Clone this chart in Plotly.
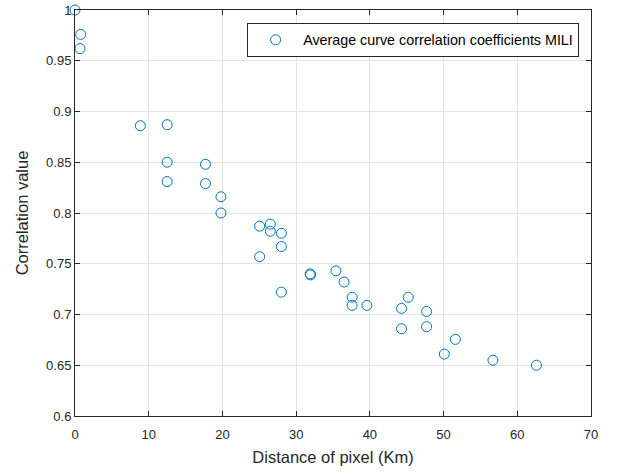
import plotly.graph_objects as go

distance_km = [0.0, 0.77, 0.68, 8.86, 12.5, 12.5, 12.5, 17.7, 17.7, 19.8, 19.8,
               25.05, 26.5, 26.5, 28.0, 28.0, 25.05, 28.0, 31.9, 31.95, 35.4, 36.5,
               37.6, 37.6, 39.6, 44.3, 45.2, 44.3, 47.7, 47.7, 51.6, 50.1, 56.7, 62.6]
correlation = [1.0, 0.976, 0.962, 0.886, 0.887, 0.850, 0.831, 0.848, 0.829, 0.816, 0.800,
               0.787, 0.789, 0.782, 0.780, 0.767, 0.757, 0.722, 0.740, 0.739, 0.743, 0.732,
               0.717, 0.709, 0.709, 0.706, 0.717, 0.686, 0.703, 0.688, 0.6755, 0.661, 0.655, 0.650]

x_ticks = [0, 10, 20, 30, 40, 50, 60, 70]
y_ticks = [0.6, 0.65, 0.7, 0.75, 0.8, 0.85, 0.9, 0.95, 1.0]
y_tick_labels = ["0.6", "0.65", "0.7", "0.75", "0.8", "0.85", "0.9", "0.95", "1"]

series_name = "Average curve correlation coefficients MILI"
FONT = "Liberation Sans, Arial, sans-serif"

fig = go.Figure()
fig.add_trace(go.Scatter(
    x=distance_km, y=correlation, mode="markers", name=series_name,
    cliponaxis=False,
    marker=dict(symbol="circle-open", size=10, color="#0072BD",
                line=dict(width=1, color="#0072BD")),
))

axis_common = dict(
    showline=True, linecolor="#262626", linewidth=1, mirror="ticks",
    ticks="inside", ticklen=5, tickcolor="#262626", tickwidth=1,
    showgrid=True, gridcolor="#e3e3e3", gridwidth=1, zeroline=False,
    ticklabeloverflow="allow",
    tickfont=dict(family=FONT, size=13, color="#262626"),
)

fig.update_xaxes(range=[0, 70], tickvals=x_ticks, ticklabelstandoff=6,
                 title=dict(text="Distance of pixel (Km)", standoff=10,
                            font=dict(family=FONT, size=16.5, color="#262626")),
                 **axis_common)
fig.update_yaxes(range=[0.6, 1.0], tickvals=y_ticks, ticktext=y_tick_labels,
                 title=dict(text="Correlation value", standoff=13,
                            font=dict(family=FONT, size=16.5, color="#262626")),
                 **axis_common)

fig.update_layout(
    width=623, height=474,
    margin=dict(l=75, r=32, t=10, b=58, autoexpand=False),
    paper_bgcolor="white", plot_bgcolor="white",
    showlegend=True,
    legend=dict(x=0.977, y=0.968, xanchor="right", yanchor="top",
                bgcolor="white", bordercolor="#262626", borderwidth=1,
                itemwidth=45,
                font=dict(family=FONT, size=14.3, color="#000000")),
)

fig.write_html("out.html", config={"displayModeBar": False},
               post_script="document.body.style.margin='0';")
